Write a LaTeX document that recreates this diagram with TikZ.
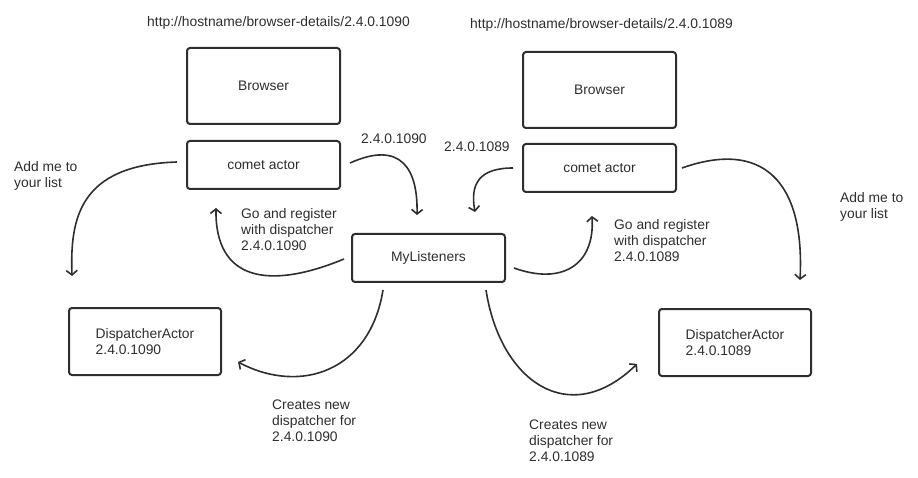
\documentclass[tikz,border=0pt]{standalone}
\usepackage{fontspec}
\setmainfont{Liberation Sans}
\usetikzlibrary{arrows.meta,calc}
\definecolor{ink}{HTML}{2E2E2E}
\begin{document}
\begin{tikzpicture}[x=1pt,y=-1pt,
  every node/.style={text=ink,font=\fontsize{13.85}{16}\selectfont},
  box/.style={draw=ink,line width=2pt,rounded corners=3pt,inner sep=0pt,minimum width=153pt,align=left},
  lbl/.style={anchor=north west,inner sep=0pt,align=left},
  conn/.style={draw=ink,line width=1.6pt,-{Straight Barb[length=4.5pt,width=11pt]}},
  link/.style={draw=ink,line width=1.6pt}]
\useasboundingbox (0,0) rectangle (918,478);
% boxes
\node[box,minimum height=76pt] (b1) at (263.5,86) {Browser};
\node[box,minimum height=48pt] (c1) at (263.5,165) {comet actor};
\node[box,minimum height=76pt] (b2) at (599.5,90) {Browser};
\node[box,minimum height=48pt] (c2) at (599.5,168) {comet actor};
\node[box,minimum height=48pt] (ml) at (428.5,258) {MyListeners};
\node[box,minimum width=152pt,minimum height=67pt] (d1) at (145,341.5) {DispatcherActor\\2.4.0.1090};
\node[box,minimum width=152pt,minimum height=67pt] (d2) at (735,342.5) {DispatcherActor\\2.4.0.1089};
% labels
\node[lbl] (u1) at (147,16.5) {http://hostname/browser-details/2.4.0.1090};
\node[lbl] (u2) at (470,18) {http://hostname/browser-details/2.4.0.1089};
\node[lbl] (v1) at (361,133.5) {2.4.0.1090};
\node[lbl] (v2) at (444,142) {2.4.0.1089};
\node[lbl] (a1) at (14,161) {Add me to\\your list};
\node[lbl] (a2) at (840,192) {Add me to\\your list};
\node[lbl] (g1) at (241,208.5) {Go and register\\with dispatcher\\2.4.0.1090};
\node[lbl] (g2) at (614,219.5) {Go and register\\with dispatcher\\2.4.0.1089};
\node[lbl] (k1) at (272,400) {Creates new\\dispatcher for\\2.4.0.1090};
\node[lbl] (k2) at (529,420) {Creates new\\dispatcher for\\2.4.0.1089};
% connectors
\draw[conn] ($(c1.west)+(-9,-3)$) .. controls +(-98,3) and +(-2,-57) .. ($(d1.north)+(-73,-31)$);
\draw[conn] ($(c1.east)+(9,-2)$) .. controls +(51,-23) and +(1,-46) .. ($(ml.north)+(-11.5,-18)$);
\draw[conn] ($(ml.west)+(-7,1)$) .. controls +(-75,31) and +(-1,73) .. ($(c1.south)+(-47.5,18)$);
\draw[conn] ($(ml.south)+(-45.5,7)$) .. controls +(-13,81) and +(63,33) .. ($(d1.east)+(16,20.5)$);
\draw[conn] ($(c2.west)+(-9,0)$) .. controls +(-34,0) and +(-5,-28) .. ($(ml.north)+(46.5,-21)$);
\draw[conn] ($(ml.east)+(8,10)$) .. controls +(47,17) and +(3,50) .. ($(c2.south)+(-7.5,23)$);
\draw[conn] ($(c2.east)+(5,0)$) .. controls +(79,-28) and +(5,-101) .. ($(d2.north)+(65,-28)$);
\draw[conn] ($(ml.south)+(57.5,7)$) .. controls +(14,91) and +(-68,66) .. ($(d2.west)+(-21,21.5)$);
\end{tikzpicture}
\end{document}
